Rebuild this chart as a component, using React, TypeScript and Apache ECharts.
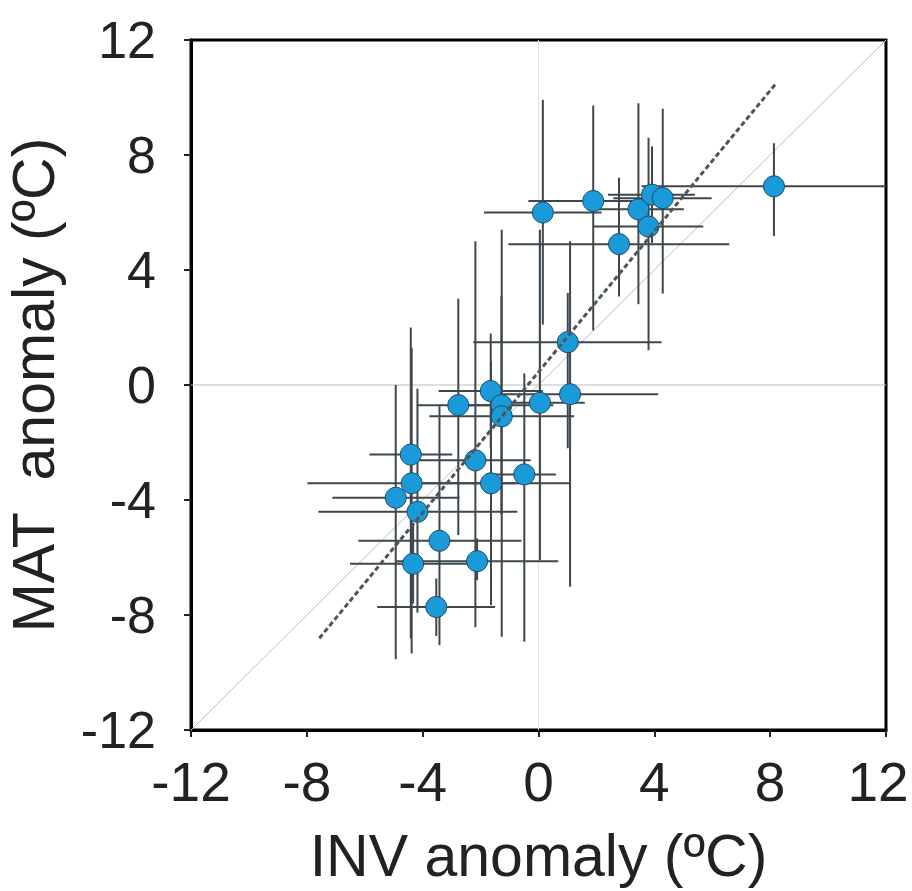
import React, { useEffect, useRef } from "react";
import * as echarts from "echarts";

// INV anomaly (x) and MAT anomaly (y), in ºC
const xVals = [0.15, 1.89, 2.78, 3.45, 3.92, 4.29, 3.8, 8.13, 1.01, 1.09, 0.05, -1.65, -2.77, -1.28, -1.27, -2.18, -1.64, -0.49, -4.41, -4.38, -4.93, -4.18, -3.42, -4.33, -2.12, -3.53];
const yVals = [6.0, 6.4, 4.9, 6.11, 6.62, 6.5, 5.51, 6.91, 1.49, -0.32, -0.62, -0.21, -0.7, -0.7, -1.09, -2.62, -3.42, -3.11, -2.42, -3.42, -3.92, -4.41, -5.42, -6.22, -6.13, -7.72];
// error-bar extents
const xLow = [-1.88, -0.35, -1.04, 2.01, 2.4, 2.58, 1.91, 3.56, -2.25, -1.95, -1.5, -3.45, -4.2, -3.07, -3.77, -4.18, -4.37, -1.58, -5.84, -7.98, -7.12, -7.6, -6.22, -6.51, -4.92, -5.57];
const xHigh = [2.18, 4.13, 6.59, 5.02, 5.4, 5.98, 5.69, 12, 4.25, 4.13, 1.6, 0.15, -1.34, 0.51, 1.23, -0.27, 1.09, 0.6, -2.98, -0.78, -2.73, -0.73, -0.59, -2.15, 0.68, -1.5];
const yLow = [2.1, 1.9, 3.08, 2.81, 4.94, 3.18, 1.21, 5.18, -2.2, -7.02, -6.09, -2.21, -5.22, -4.5, -8.76, -8.43, -7.66, -8.93, -8.81, -9.34, -9.54, -7.92, -9.05, -7.6, -6.79, -8.73];
const yHigh = [9.92, 9.72, 7.21, 9.8, 8.3, 9.61, 8.6, 8.41, 3.2, 5.0, 5.4, 1.79, 3.0, 3.1, 5.4, 5.0, 0.82, 0.4, 2.0, 1.3, 0.0, -0.13, -0.74, -4.8, -5.34, -6.73];

// regression line end points
const regX = [-7.57, 8.22];
const regY = [-8.81, 10.51];

const axisMin = -12;
const axisMax = 12;
const tickStep = 4;

export default function App() {
  const ref = useRef<HTMLDivElement>(null);

  useEffect(() => {
    if (!ref.current) return;
    const chart = echarts.init(ref.current, undefined, { renderer: "svg" });

    const points = xVals.map((x, i) => [x, yVals[i]]);
    const bars = xVals.map((x, i) => [x, yVals[i], xLow[i], xHigh[i], yLow[i], yHigh[i]]);

    const font = "'Liberation Sans', Arial, sans-serif";

    const axisCommon = {
      type: "value",
      min: axisMin,
      max: axisMax,
      interval: tickStep,
      splitLine: { show: false },
      axisLine: { show: true, onZero: false, lineStyle: { color: "#000", width: 3 } },
      axisTick: { show: true, inside: false, length: 7, lineStyle: { color: "#222", width: 2 } },
      nameLocation: "middle",
    };

    chart.setOption({
      animation: false,
      backgroundColor: "#fff",
      grid: {
        left: 191,
        top: 40,
        right: 26,
        bottom: 161,
        show: true,
        borderColor: "#000",
        borderWidth: 3,
        containLabel: false,
        outerBoundsMode: "none",
      },
      xAxis: {
        ...axisCommon,
        name: "INV anomaly (ºC)",
        nameGap: 96,
        nameTextStyle: { fontSize: 59, color: "#222", fontFamily: font },
        axisLabel: {
          fontSize: 55,
          color: "#222",
          fontFamily: font,
          margin: 24,
          formatter: (v: number) => (v === axisMax ? "{r|" + v + "}" : String(v)),
          rich: { r: { fontSize: 55, color: "#222", fontFamily: font, padding: [0, 16, 0, 0] } },
        },
      },
      yAxis: {
        ...axisCommon,
        name: "MAT  anomaly (ºC)",
        nameGap: 128,
        nameTextStyle: { fontSize: 59, color: "#222", fontFamily: font },
        axisLabel: { fontSize: 52, color: "#222", fontFamily: font, margin: 35 },
      },
      series: [
        {
          type: "line",
          data: [[axisMin, 0], [axisMax, 0]],
          symbol: "none",
          lineStyle: { color: "#bdbdbd", width: 1 },
          silent: true,
          z: 1,
        },
        {
          type: "line",
          data: [[0, axisMin], [0, axisMax]],
          symbol: "none",
          lineStyle: { color: "#e2e2e2", width: 1 },
          silent: true,
          z: 1,
        },
        {
          type: "line",
          data: [[axisMin, axisMin], [axisMax, axisMax]],
          symbol: "none",
          lineStyle: { color: "#bbbbbb", width: 1 },
          silent: true,
          z: 2,
        },
        {
          type: "custom",
          data: bars,
          z: 3,
          renderItem: (params: any, api: any) => {
            const x = api.value(0);
            const y = api.value(1);
            const xl = api.coord([api.value(2), y]);
            const xh = api.coord([api.value(3), y]);
            const yl = api.coord([x, api.value(4)]);
            const yh = api.coord([x, api.value(5)]);
            const style = { stroke: "#3d474d", lineWidth: 2 };
            return {
              type: "group",
              children: [
                { type: "line", shape: { x1: xl[0], y1: xl[1], x2: xh[0], y2: xh[1] }, style },
                { type: "line", shape: { x1: yl[0], y1: yl[1], x2: yh[0], y2: yh[1] }, style },
              ],
            };
          },
        },
        {
          type: "scatter",
          data: points,
          symbol: "circle",
          symbolSize: 21,
          itemStyle: { color: "#1a9ad8", borderColor: "#1f4b66", borderWidth: 1, opacity: 1 },
          z: 4,
        },
        {
          type: "line",
          data: [[regX[0], regY[0]], [regX[1], regY[1]]],
          symbol: "none",
          lineStyle: { color: "#4d5559", width: 3, type: [5, 3] },
          silent: true,
          z: 5,
        },
      ],
    });

    return () => chart.dispose();
  }, []);

  return (
    <div
      ref={ref}
      style={{ position: "absolute", left: 0, top: 0, width: 912, height: 891 }}
    />
  );
}
